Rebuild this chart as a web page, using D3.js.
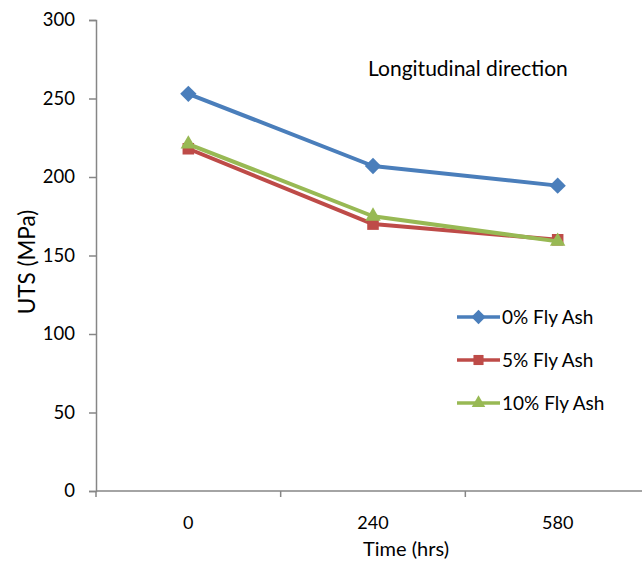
<!DOCTYPE html>
<html>
<head>
<meta charset="utf-8">
<script src="https://cdn.jsdelivr.net/npm/d3@7"></script>
<style>
  html, body { margin: 0; padding: 0; background: #fff; }
  svg { display: block; }
  text { font-family: Lato, "Open Sans", sans-serif; fill: #000; }
</style>
</head>
<body>
<svg id="chart" width="642" height="562"></svg>
<script>
// Time categories (hours) and UTS values (MPa) for each fly ash content
const times = ["0", "240", "580"];
const seriesNames = ["0% Fly Ash", "5% Fly Ash", "10% Fly Ash"];
const flyAsh0 = [253, 207, 194.5];
const flyAsh5 = [218, 170, 160];
const flyAsh10 = [221, 175, 159];
const yTicks = [0, 50, 100, 150, 200, 250, 300];

const colors = ["#4a7ebb", "#be4b48", "#98b954"];
const symbols = [d3.symbolDiamond2, d3.symbolSquare2, d3.symbolTriangle2];

const series = [flyAsh0, flyAsh5, flyAsh10].map((vals, i) => ({
  name: seriesNames[i], values: vals, color: colors[i], symbol: symbols[i]
}));

const svg = d3.select("#chart");
const axisColor = "#868686";

const x = d3.scaleBand().domain(times).range([96, 650]);
const y = d3.scaleLinear().domain([0, 300]).range([491, 20]);
const cx = d => x(d) + x.bandwidth() / 2;

// Y axis
const yAxis = svg.append("g").attr("transform", "translate(96,0)")
  .call(d3.axisLeft(y).tickValues(yTicks).tickSize(7).tickPadding(14));
yAxis.select(".domain").attr("stroke", axisColor).attr("stroke-width", 1.5);
yAxis.selectAll(".tick line").attr("stroke", axisColor).attr("stroke-width", 1.5);
yAxis.selectAll(".tick text").attr("font-size", 18.5).attr("fill", "#000")
  .style("font-family", "Lato, 'Open Sans', sans-serif");

// X axis: line with tick marks on category boundaries
const xg = svg.append("g");
xg.append("line").attr("x1", 96).attr("x2", 650).attr("y1", y(0)).attr("y2", y(0))
  .attr("stroke", axisColor).attr("stroke-width", 1.5);
const boundaries = times.map(t => x(t)).concat([x(times[times.length - 1]) + x.bandwidth()]);
xg.selectAll("line.tk").data(boundaries).join("line").attr("class", "tk")
  .attr("x1", d => d).attr("x2", d => d)
  .attr("y1", y(0)).attr("y2", y(0) + 6)
  .attr("stroke", axisColor).attr("stroke-width", 1.5);
xg.selectAll("text").data(times).join("text")
  .attr("x", d => cx(d)).attr("y", 529)
  .attr("text-anchor", "middle").attr("font-size", 18).text(d => d);

// Axis titles
svg.append("text").attr("x", 406).attr("y", 556).attr("text-anchor", "middle")
  .attr("font-size", 20).text("Time (hrs)");
svg.append("text").attr("transform", "translate(35,262) rotate(-90)")
  .attr("text-anchor", "middle").attr("font-size", 22.5).text("UTS (MPa)");

// Annotation
svg.append("text").attr("x", 368).attr("y", 76).attr("font-size", 21)
  .text("Longitudinal direction");

// Lines and markers
const line = d3.line().x((d, i) => cx(times[i])).y(d => y(d));
series.forEach(s => {
  svg.append("path").datum(s.values).attr("d", line)
    .attr("fill", "none").attr("stroke", s.color).attr("stroke-width", 4)
    .attr("stroke-linejoin", "round");
  svg.selectAll(null).data(s.values).join("path")
    .attr("transform", (d, i) => `translate(${cx(times[i])},${y(d)})`)
    .attr("d", d3.symbol().type(s.symbol).size(170))
    .attr("fill", s.color);
});

// Legend
const legend = svg.append("g");
series.forEach((s, i) => {
  const ly = 317 + i * 43;
  legend.append("line").attr("x1", 457).attr("x2", 500).attr("y1", ly).attr("y2", ly)
    .attr("stroke", s.color).attr("stroke-width", 3.5);
  legend.append("path").attr("transform", `translate(478.5,${ly})`)
    .attr("d", d3.symbol().type(s.symbol).size(130)).attr("fill", s.color);
  legend.append("text").attr("x", 502).attr("y", ly + 7).attr("font-size", 19)
    .text(s.name);
});
</script>
</body>
</html>
